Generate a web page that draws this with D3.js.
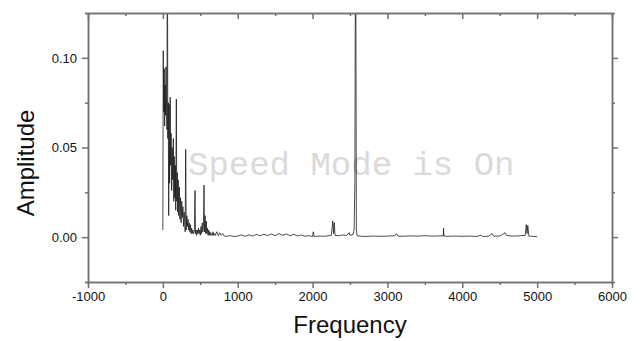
<!DOCTYPE html>
<html>
<head>
<meta charset="utf-8">
<script src="https://cdn.jsdelivr.net/npm/d3@7"></script>
<style>
  body { margin: 0; background: #fff; }
  svg { display: block; }
  .tick text { font-family: "Liberation Sans", Arial, sans-serif; font-size: 13px; fill: #111; }
</style>
</head>
<body>
<svg></svg>
<script>
const svg = d3.select('svg');
svg.attr('width', 642).attr('height', 341).style('background-color', '#fff');

const WIDTH = 642;
const HEIGHT = 341;
const margin = { top: 13, right: 30, bottom: 59, left: 88 };

// spectrum (frequency in Hz, amplitude)
const freq = [
  0, 5, 12, 18, 24, 30, 36, 42, 48, 55, 60, 66, 72, 78, 84, 90, 98, 104, 110, 118,
  125, 132, 140, 146, 152, 160, 166, 172, 180, 186, 192, 198, 205, 212, 220, 228, 236, 244, 252, 260,
  268, 276, 284, 292, 298, 305, 312, 320, 328, 336, 344, 352, 360, 368, 376, 384, 392, 400, 410, 420,
  430, 436, 444, 452, 460, 468, 476, 484, 492, 500, 510, 518, 526, 534, 542, 550, 556, 564, 572, 580,
  588, 596, 604, 612, 620, 630, 640, 650, 660, 670, 680, 690, 700, 720, 740, 760, 780, 800, 820, 860,
  900, 950, 1000, 1050, 1100, 1150, 1200, 1250, 1300, 1350, 1400, 1450, 1500, 1550, 1600, 1650, 1700, 1750, 1800, 1850,
  1900, 1950, 2000, 2010, 2020, 2100, 2150, 2200, 2250, 2270, 2280, 2290, 2300, 2350, 2400, 2450, 2490, 2500, 2540, 2555,
  2565, 2575, 2585, 2595, 2650, 2700, 2800, 2900, 3000, 3100, 3120, 3140, 3200, 3300, 3400, 3500, 3600, 3700, 3746, 3750,
  3754, 3800, 3900, 4000, 4100, 4200, 4250, 4270, 4350, 4400, 4420, 4500, 4550, 4570, 4590, 4650, 4750, 4840, 4855, 4865,
  4875, 4890, 4950, 5000
];
const amp = [
  0.004, 0.104, 0.070, 0.094, 0.062, 0.085, 0.068, 0.095, 0.078, 0.060, 0.200, 0.055, 0.075, 0.012, 0.074, 0.030, 0.078, 0.040, 0.058, 0.026,
  0.050, 0.032, 0.055, 0.020, 0.045, 0.022, 0.040, 0.015, 0.077, 0.020, 0.036, 0.014, 0.032, 0.012, 0.028, 0.010, 0.022, 0.008, 0.020, 0.011,
  0.017, 0.006, 0.014, 0.009, 0.003, 0.049, 0.004, 0.012, 0.006, 0.010, 0.004, 0.008, 0.003, 0.007, 0.002, 0.005, 0.002, 0.004, 0.002, 0.003,
  0.026, 0.002, 0.004, 0.001, 0.004, 0.002, 0.005, 0.002, 0.004, 0.001, 0.006, 0.002, 0.008, 0.003, 0.006, 0.029, 0.003, 0.012, 0.002, 0.009,
  0.002, 0.005, 0.001, 0.004, 0.001, 0.003, 0.001, 0.002, 0.001, 0.003, 0.001, 0.002, 0.001, 0.003, 0.0008, 0.0025, 0.001, 0.002, 0.0006, 0.0005,
  0.0008, 0.0004, 0.0006, 0.0012, 0.0005, 0.0013, 0.0006, 0.0015, 0.0008, 0.0016, 0.0009, 0.0018, 0.0008, 0.002, 0.001, 0.0018, 0.0008, 0.0016, 0.0007, 0.0012,
  0.0005, 0.0008, 0.0004, 0.003, 0.0004, 0.0006, 0.0005, 0.0007, 0.001, 0.009, 0.002, 0.008, 0.001, 0.0008, 0.0012, 0.0009, 0.0025, 0.001, 0.0015, 0.004,
  0.030, 0.200, 0.004, 0.0008, 0.0005, 0.0004, 0.0006, 0.0005, 0.0006, 0.0008, 0.002, 0.0006, 0.0005, 0.0007, 0.0006, 0.0008, 0.0006, 0.0007, 0.0007, 0.005,
  0.0007, 0.0005, 0.0006, 0.0005, 0.0006, 0.0004, 0.0012, 0.0004, 0.0005, 0.002, 0.0005, 0.0007, 0.0018, 0.0025, 0.001, 0.0006, 0.0007, 0.001, 0.007, 0.002,
  0.0065, 0.0006, 0.0004, 0.0003
];

const xTicks = [-1000, 0, 1000, 2000, 3000, 4000, 5000, 6000];
const xMinor = [-500, 500, 1500, 2500, 3500, 4500, 5500];
const yTicks = [0, 0.05, 0.10];
const yMinor = [-0.025, 0.025, 0.075, 0.125];

const x = d3.scaleLinear()
    .domain([-1000, 6000])
    .range([margin.left, WIDTH - margin.right]);
const y = d3.scaleLinear()
    .domain([-0.025, 0.125])
    .range([HEIGHT - margin.bottom, margin.top]);

const AXIS_COLOR = '#707070';

svg.append('clipPath').attr('id', 'plotClip')
  .append('rect')
    .attr('x', x.range()[0]).attr('y', y.range()[1])
    .attr('width', x.range()[1] - x.range()[0])
    .attr('height', y.range()[0] - y.range()[1]);

// watermark
svg.append('text')
    .attr('x', 188)
    .attr('y', 175)
    .attr('font-family', '"Liberation Mono", "DejaVu Sans Mono", monospace')
    .attr('font-size', 34)
    .attr('fill', '#dadada')
    .text('Speed Mode is On');

// spectrum line
const line = d3.line()
    .x((d, i) => x(freq[i]))
    .y(d => y(d));

svg.append('path')
    .datum(amp)
    .attr('clip-path', 'url(#plotClip)')
    .attr('fill', 'none')
    .attr('stroke', '#111')
    .attr('stroke-width', 0.75)
    .attr('d', line);

function styleAxis(g) {
  g.select('.domain').attr('stroke', AXIS_COLOR).attr('stroke-width', 1.5);
  g.selectAll('.tick line').attr('stroke', AXIS_COLOR).attr('stroke-width', 1.5);
}

// bottom axis (major + minor), ticks outward
const xAxisBottomG = svg.append('g').attr('transform', `translate(0, ${y.range()[0]})`);
xAxisBottomG.call(d3.axisBottom(x).tickValues(xTicks).tickSizeInner(6).tickSizeOuter(0).tickPadding(4).tickFormat(d => String(d)));
svg.append('g').attr('transform', `translate(0, ${y.range()[0]})`)
  .call(d3.axisBottom(x).tickValues(xMinor).tickSize(3).tickFormat(''))
  .call(styleAxis);
styleAxis(xAxisBottomG);

// top axis, ticks inward, no labels
const xAxisTopG = svg.append('g').attr('transform', `translate(0, ${y.range()[1]})`);
xAxisTopG.call(d3.axisBottom(x).tickValues(xTicks).tickSizeInner(6).tickSizeOuter(0).tickFormat(''));
svg.append('g').attr('transform', `translate(0, ${y.range()[1]})`)
  .call(d3.axisBottom(x).tickValues(xMinor).tickSize(3).tickFormat(''))
  .call(styleAxis);
styleAxis(xAxisTopG);

// left axis, ticks outward
const yAxisLeftG = svg.append('g').attr('transform', `translate(${x.range()[0]}, 0)`);
yAxisLeftG.call(d3.axisLeft(y).tickValues(yTicks).tickSizeInner(6).tickSizeOuter(0).tickPadding(5).tickFormat(d3.format('.2f')));
svg.append('g').attr('transform', `translate(${x.range()[0]}, 0)`)
  .call(d3.axisLeft(y).tickValues(yMinor).tickSize(3).tickFormat(''))
  .call(styleAxis);
styleAxis(yAxisLeftG);

// right axis, ticks inward
const yAxisRightG = svg.append('g').attr('transform', `translate(${x.range()[1]}, 0)`);
yAxisRightG.call(d3.axisLeft(y).tickValues(yTicks).tickSizeInner(-6).tickSizeOuter(0).tickFormat(''));
svg.append('g').attr('transform', `translate(${x.range()[1]}, 0)`)
  .call(d3.axisLeft(y).tickValues(yMinor).tickSizeInner(-3).tickSizeOuter(0).tickFormat(''))
  .call(styleAxis);
styleAxis(yAxisRightG);

// axis titles
svg.append('text')
    .attr('x', (x.range()[0] + x.range()[1]) / 2)
    .attr('y', 333)
    .attr('text-anchor', 'middle')
    .attr('font-family', '"Liberation Sans", Arial, sans-serif')
    .attr('font-size', 24)
    .attr('fill', '#111')
    .text('Frequency');

svg.append('text')
    .attr('transform', 'translate(34, 163) rotate(-90)')
    .attr('text-anchor', 'middle')
    .attr('font-family', '"Liberation Sans", Arial, sans-serif')
    .attr('font-size', 24)
    .attr('fill', '#111')
    .text('Amplitude');
</script>
</body>
</html>
